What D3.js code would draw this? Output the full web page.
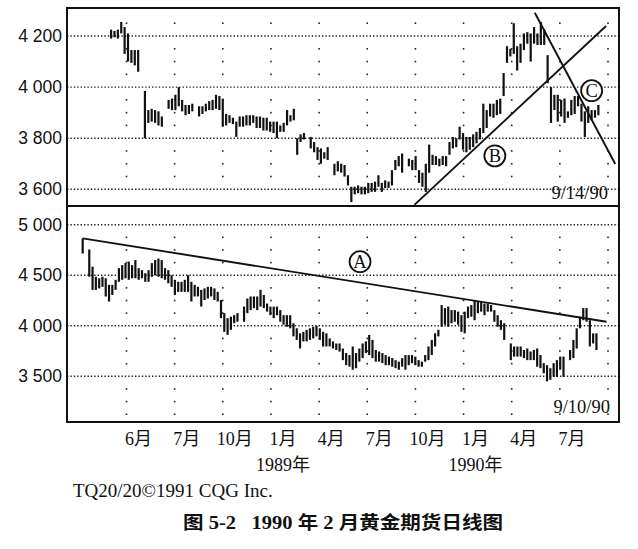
<!DOCTYPE html>
<html>
<head>
<meta charset="utf-8">
<title>1990年2月黄金期货日线图</title>
<script src="https://cdnjs.cloudflare.com/ajax/libs/d3/7.8.5/d3.min.js"></script>
<style>
  body { margin: 0; background: #fff; }
  text { fill: #111; }
</style>
</head>
<body>
<div id="chart"></div>
<script>
// x axis: one label per quarterly gridline (as printed in the book)
const monthLabels = ["6月", "7月", "10月", "1月", "4月", "7月", "10月", "1月", "4月", "7月"];
const yearLabels = [{ label: "1989年", at: 3 }, { label: "1990年", at: 7 }];

const topTicks = [3600, 3800, 4000, 4200];
const bottomTicks = [3500, 4000, 4500, 5000];

// upper panel (to 9/14/90): bar highs / lows, null = no bar that period
const topHigh = [4225, 4220, 4225, 4255, 4235, 4210, 4145, 4145, 4145, null,
  3985, 3910, 3915, 3910, 3905, 3885, null, 3950, 3955, 3970, 4000, 3950, 3930, 3930, 3935, null,
  3925, 3925, 3935, 3945, 3950, 3970, 3965, 3955, 3895, 3890, 3880, 3865, 3885, 3885, 3890, 3890,
  3890, 3885, 3885, 3880, 3880, 3865, 3865, 3865, 3850, 3860, 3910, 3890, 3915, 3800, 3815, 3820, null,
  3805, 3785,
  3765, 3760, 3745, 3765, null, 3700, 3710, 3700, 3695, 3655, 3610, 3610, 3615, 3610, 3610, 3625,
  3625, 3630, 3655, 3625, 3635, 3630, 3675, 3715, 3730, 3740, null, 3720, 3715, 3730, 3675, 3665,
  3700, 3775, 3735, 3730, 3720, 3730, 3730, 3785, 3805, 3800, 3845, 3820, 3805, 3805, 3815, 3825,
  3840, 3935, 3910, 3935, 3935, 3950, 3955, 4055, 4160, 4150, 4250, 4160, 4170, 4210, 4215, 4210,
  4235, 4210, 4255, 4225, 4125, 4000, 3970, 3970, 3950, 3955, 3905, 3950, 3965, 3965, 3935, 3905,
  3925, 3910, 3910, 3930];
const topLow = [4190, 4195, 4190, 4210, 4130, 4100, 4095, 4085, 4060, null,
  3800, 3860, 3865, 3860, 3850, 3845, null, 3915, 3910, 3910, 3925, 3905, 3890, 3895, 3905, null,
  3885, 3895, 3905, 3910, 3910, 3915, 3910, 3845, 3850, 3860, 3855, 3805, 3845, 3845, 3850, 3850,
  3860, 3840, 3840, 3830, 3830, 3825, 3820, 3800, 3825, 3825, 3850, 3865, 3870, 3735, 3785, 3795, null,
  3760, 3745,
  3715, 3700, 3720, 3715, null, 3655, 3670, 3665, 3650, 3615, 3550, 3580, 3585, 3580, 3580, 3585,
  3590, 3590, 3610, 3590, 3605, 3605, 3615, 3675, 3690, 3665, null, 3690, 3675, 3675, 3625, 3610,
  3590, 3665, 3695, 3695, 3690, 3695, 3690, 3735, 3760, 3765, 3795, 3755, 3745, 3755, 3765, 3780,
  3795, 3820, 3840, 3885, 3880, 3890, 3895, 3965, 4095, 4120, 4130, 4065, 4095, 4145, 4170, 4100,
  4170, 4165, 4165, 4165, 4015, 3860, 3910, 3865, 3885, 3860, 3880, 3890, 3895, 3925, 3865, 3805,
  3860, 3870, 3880, 3890];
const topFirst = -0.32, topLast = 9.8;   // dates of first / last bar, in quarters

// lower panel (to 9/10/90)
const bottomHigh = [4865, null, 4755, 4585, 4485, 4470, 4485, 4470, 4405, 4405, 4455, 4570, 4600,
  4620, 4635, 4600, 4650, 4570, 4550, 4520, 4550, 4620, 4650, 4665, 4650, 4570, 4550, 4500, 4455,
  4435, 4435, 4455, 4500, 4435, 4405, 4385, 4355, 4370, 4385, 4385, 4370, 4335, 4255, 4125, 4075,
  4090, 4105, 4125, null, 4190, 4270, 4290, 4290, 4290, 4355, 4305, 4220, 4190, 4190, 4190, 4155,
  4105, 4105, 4105, 4025, 3975, 3925, 3940, 3960, 3975, 3990, 4000, 3975, 3940,
  3925, 3875, 3845, 3825, 3825, 3775, 3730, 3710, 3795, 3730, 3775, 3825, 3845, 3910, 3860, 3760,
  3745, 3730, 3710, 3695, 3680, 3660, 3645, 3680, 3710, 3710, 3710, 3695, 3660, 3645, 3710, 3795,
  3860, 3925, 3960, 4205, 4175, 4190, 4155, 4155, 4140, 4105, 4140, 4190, 4205, 4255, 4240, 4240,
  4220, 4220, 4205, 4155, 4105, 4055, 4025, null, 3825, 3795, 3795, 3795, 3760, 3775, 3745, 3760,
  3775, 3710, 3630, 3610, 3580, 3630, 3660, 3695, 3695, null, 3760, 3860, 3975, 4090, 4175, 4175,
  4055, 3925, 3925];
const bottomLow = [4715, null, 4485, 4355, 4355, 4370, 4385, 4290, 4240, 4305, 4355, 4435, 4455,
  4470, 4455, 4470, 4470, 4455, 4470, 4435, 4435, 4485, 4500, 4485, 4470, 4455, 4420, 4385, 4305,
  4335, 4335, 4335, 4335, 4240, 4290, 4290, 4190, 4255, 4270, 4290, 4255, 4240, 4075, 3940, 3910,
  3960, 4025, 4040, null, 4040, 4125, 4155, 4175, 4155, 4190, 4175, 4140, 4105, 4075, 4105, 4040,
  4010, 3990, 3975, 3895, 3860, 3775, 3845, 3845, 3860, 3875, 3895, 3860, 3795,
  3795, 3795, 3775, 3760, 3745, 3660, 3610, 3595, 3565, 3580, 3645, 3680, 3730, 3710, 3680, 3645,
  3645, 3630, 3610, 3610, 3595, 3580, 3565, 3595, 3565, 3610, 3630, 3610, 3595, 3595, 3645, 3660,
  3710, 3795, 3895, 3990, 4010, 3990, 4025, 4040, 4010, 3940, 3925, 4075, 4090, 4055, 4125, 4140,
  4105, 4140, 4140, 4040, 3990, 3960, 3860, null, 3660, 3695, 3695, 3695, 3680, 3660, 3660, 3660,
  3595, 3580, 3530, 3450, 3465, 3495, 3495, 3565, 3495, null, 3660, 3680, 3775, 3975, 4055, 4040,
  3795, 3825, 3760];
const bottomFirst = -0.91, bottomLast = 9.76;

// trendlines, [quarter, price]
const lineA = [[-0.91, 4865], [9.97, 4040]];
const lineB = [[5.98, 3539], [9.96, 4239]];
const lineC = [[8.48, 4291], [10.15, 3699]];
const topMarks = [{ label: "B", q: 7.65, v: 3731 }, { label: "C", q: 9.66, v: 3986 }];
const bottomMarks = [{ label: "A", q: 4.85, v: 4634 }];

const W = 638, H = 549;
const frame = { left: 67, right: 619, top: 8, mid: 206, bottom: 422 };

const svg = d3.select('#chart').append('svg')
  .attr('width', W).attr('height', H);

const x = d3.scaleLinear().domain([0, 10]).range([126.5, 608]);
const yTop = d3.scaleLinear().domain([3600, 4200]).range([189.3, 36]);
const yBot = d3.scaleLinear().domain([3500, 5000]).range([376.3, 224.7]);

const serif = '"Liberation Serif", "Noto Sans CJK SC", serif';
const sans = '"Liberation Sans", "Noto Sans CJK SC", sans-serif';
const fmt = v => d3.format(",")(v).replace(",", " ");

function panel(y, ticks, dotStep, dotMin, dotMax, highs, lows, first, last) {
  const g = svg.append('g');

  // dotted price lines
  g.selectAll('line.h').data(ticks).join('line')
    .attr('x1', frame.left).attr('x2', frame.right)
    .attr('y1', d => y(d)).attr('y2', d => y(d))
    .attr('stroke', '#222').attr('stroke-width', 1.4)
    .attr('stroke-dasharray', '1.4,2');

  // sparse dots along the quarter lines
  const levels = d3.range(dotMin, dotMax + 1, dotStep).filter(v => !ticks.includes(v));
  const dots = [];
  d3.range(0, 11).forEach(q => levels.forEach(v => dots.push([q, v])));
  g.selectAll('rect.dot').data(dots).join('rect')
    .attr('x', d => x(d[0]) - 0.8).attr('y', d => y(d[1]) - 0.8)
    .attr('width', 1.6).attr('height', 1.6).attr('fill', '#222');

  g.selectAll('text.tick').data(ticks).join('text')
    .attr('x', 62).attr('y', d => y(d) + 6)
    .attr('text-anchor', 'end')
    .style('font-family', sans).style('font-size', '17.5px')
    .text(fmt);

  // high-low bars
  const xb = d3.scaleLinear().domain([0, highs.length - 1]).range([x(first), x(last)]);
  const bars = highs.map((h, i) => ({ i, h, l: lows[i] })).filter(d => d.h != null);
  g.selectAll('line.bar').data(bars).join('line')
    .attr('x1', d => xb(d.i)).attr('x2', d => xb(d.i))
    .attr('y1', d => y(d.h)).attr('y2', d => y(d.l))
    .attr('stroke', '#111').attr('stroke-width', 2.2);
  return g;
}

svg.append('clipPath').attr('id', 'clipTop').append('rect')
  .attr('x', frame.left).attr('y', frame.top)
  .attr('width', frame.right - frame.left).attr('height', frame.mid - frame.top);

const gTop = panel(yTop, topTicks, 50, 3650, 4250, topHigh, topLow, topFirst, topLast);
const gBot = panel(yBot, bottomTicks, 125, 3125, 4875, bottomHigh, bottomLow, bottomFirst, bottomLast);

function trend(g, y, pts, clip) {
  const l = g.append('line')
    .attr('x1', x(pts[0][0])).attr('y1', y(pts[0][1]))
    .attr('x2', x(pts[1][0])).attr('y2', y(pts[1][1]))
    .attr('stroke', '#111').attr('stroke-width', 1.9);
  if (clip) l.attr('clip-path', 'url(#clipTop)');
}
trend(gTop, yTop, lineB, true);
trend(gTop, yTop, lineC, true);
trend(gBot, yBot, lineA, false);

function marks(g, y, data) {
  const m = g.selectAll('g.mark').data(data).join('g')
    .attr('transform', d => `translate(${x(d.q)},${y(d.v)})`);
  m.append('circle').attr('r', 10.5)
    .attr('fill', '#fff').attr('stroke', '#111').attr('stroke-width', 1.8);
  m.append('text').attr('text-anchor', 'middle').attr('y', 6.3)
    .style('font-family', serif).style('font-size', '18.5px')
    .text(d => d.label);
}
marks(gTop, yTop, topMarks);
marks(gBot, yBot, bottomMarks);

// end dates
svg.append('text').attr('x', 608).attr('y', 199).attr('text-anchor', 'end')
  .style('font-family', serif).style('font-size', '18.5px').text('9/14/90');
svg.append('text').attr('x', 610).attr('y', 413).attr('text-anchor', 'end')
  .style('font-family', serif).style('font-size', '18.5px').text('9/10/90');

// frame and divider
svg.append('rect')
  .attr('x', frame.left).attr('y', frame.top)
  .attr('width', frame.right - frame.left).attr('height', frame.bottom - frame.top)
  .attr('fill', 'none').attr('stroke', '#111').attr('stroke-width', 2);
svg.append('line')
  .attr('x1', frame.left).attr('x2', frame.right)
  .attr('y1', frame.mid).attr('y2', frame.mid)
  .attr('stroke', '#111').attr('stroke-width', 2.2);

// x labels
svg.selectAll('text.month').data(monthLabels).join('text')
  .attr('x', (d, i) => x(i + 0.25)).attr('y', 445)
  .attr('text-anchor', 'middle')
  .style('font-family', serif).style('font-size', '18px')
  .text(d => d);
svg.selectAll('text.year').data(yearLabels).join('text')
  .attr('x', d => x(d.at + 0.25)).attr('y', 471)
  .attr('text-anchor', 'middle')
  .style('font-family', serif).style('font-size', '18px')
  .text(d => d.label);

svg.append('text').attr('x', 73).attr('y', 497)
  .style('font-family', serif).style('font-size', '19px')
  .text('TQ20/20©1991 CQG Inc.');

svg.append('text').attr('x', 183).attr('y', 529)
  .attr('xml:space', 'preserve')
  .attr('textLength', 320).attr('lengthAdjust', 'spacingAndGlyphs')
  .style('font-family', serif).style('font-size', '18px').style('font-weight', 'bold')
  .text('图 5-2   1990 年 2 月黄金期货日线图');
</script>
</body>
</html>
